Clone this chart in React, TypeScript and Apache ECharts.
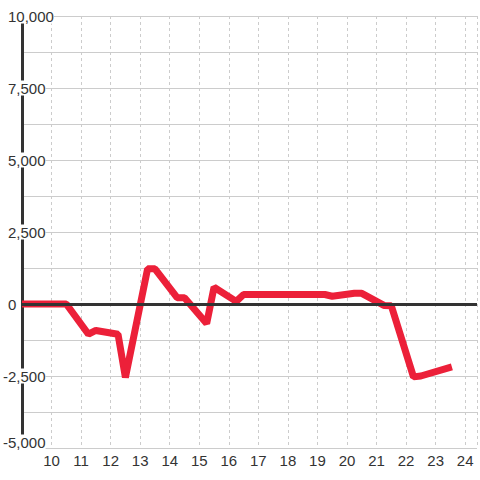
import React, { useEffect, useRef } from "react";
import * as echarts from "echarts";

const xValues = [9, 10.5, 11.25, 11.5, 12.25, 12.5, 13.25, 13.5, 14.25, 14.5, 15.25, 15.5, 16.25, 16.5, 19.25, 19.5, 20.25, 20.5, 21.25, 21.5, 22.25, 22.5, 23.55];
const yValues = [0, 0, -1050, -920, -1050, -2550, 1220, 1220, 220, 220, -680, 580, 90, 330, 330, 270, 370, 370, -50, -60, -2530, -2500, -2180];
const yTickLabels = [-5000, -2500, 0, 2500, 5000, 7500, 10000];

const FONT = "'Liberation Sans', Arial, sans-serif";
const FS = 15;

export default function App() {
  const ref = useRef<HTMLDivElement>(null);
  useEffect(() => {
    const chart = echarts.init(ref.current!, null, { renderer: "svg" });
    const data = xValues.map((x, i) => [x, yValues[i]]);
    chart.setOption({
      animation: false,
      backgroundColor: "#fff",
      grid: { left: 20, right: -2, top: 16, bottom: 32, containLabel: false },
      xAxis: {
        type: "value",
        min: 9,
        max: 9 + 462 / 30,
        interval: 1,
        axisLine: { show: false },
        axisTick: { show: false },
        axisLabel: {
          margin: 5,
          fontSize: FS,
          fontFamily: FONT,
          color: "#333",
          formatter: (v: number) => (Number.isInteger(v) && v >= 10 && v <= 24 ? String(v) : ""),
        },
        splitLine: { show: true, lineStyle: { color: "#ccc", width: 1, type: [3, 3] } },
      },
      yAxis: {
        type: "value",
        min: -5000,
        max: 10000,
        interval: 1250,
        axisLine: { show: true, lineStyle: { color: "#333", width: 3 } },
        axisTick: { show: false },
        axisLabel: {
          align: "left",
          margin: 19,
          fontSize: FS,
          fontFamily: FONT,
          color: "#333",
          backgroundColor: "#fff",
          formatter: (v: number) => {
            if (!yTickLabels.includes(v)) return "";
            const s = v.toLocaleString("en-US");
            if (v === -5000) return `{b|${s}}`;
            if (v < 0) return `{n|${s}}`;
            return `{s|\u00a0}{n|${s}}`;
          },
          rich: {
            s: { width: 5, fontSize: FS, fontFamily: FONT, color: "#333" },
            n: { fontSize: FS, fontFamily: FONT, color: "#333" },
            b: { padding: [0, 0, 12, 0], fontSize: FS, fontFamily: FONT, color: "#333" },
          },
        },
        splitLine: { show: true, lineStyle: { color: "#ccc", width: 1 } },
      },
      series: [
        {
          type: "line",
          data: [],
          z: 1,
          markLine: {
            silent: true,
            symbol: ["none", "none"],
            label: { show: false },
            lineStyle: { color: "#333", width: 3, type: "solid" },
            data: [{ yAxis: 0 }],
          },
        },
        {
          type: "line",
          data,
          z: 3,
          symbol: "none",
          clip: false,
          lineStyle: { color: "#ec2039", width: 7 },
        },
      ],
    });
    return () => chart.dispose();
  }, []);
  return <div ref={ref} style={{ position: "fixed", left: 0, top: 0, width: 480, height: 480 }} />;
}
